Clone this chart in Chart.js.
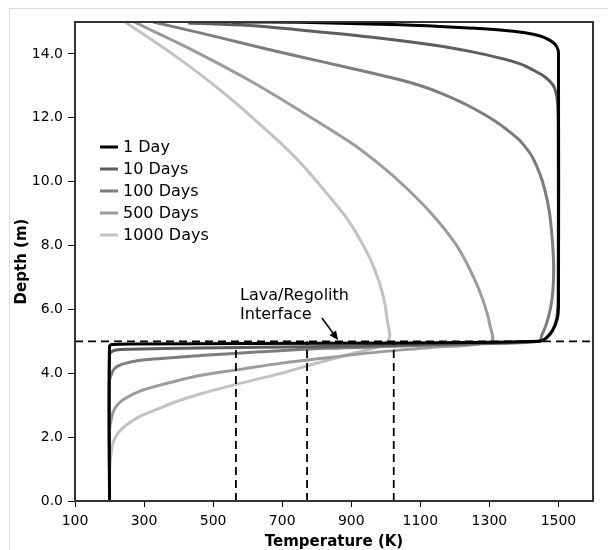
<!DOCTYPE html>
<html>
<head>
<meta charset="utf-8">
<script src="https://cdn.jsdelivr.net/npm/chart.js@4.4.0/dist/chart.umd.min.js"></script>
<style>
  body { margin: 0; background: #fff; }
  #wrap { position: relative; width: 608px; height: 550px; overflow: hidden; }
  #frame { position: absolute; left: 9px; top: 8px; width: 800px; height: 800px; border: 1px solid #dcdcdc; }
  #wrap canvas { position: absolute; left: 0; top: 0; }
</style>
</head>
<body>
<div id="wrap">
  <div id="frame"></div>
  <canvas id="chartProfile"></canvas>
</div>
<script>
const FONT = '"DejaVu Sans", Verdana, sans-serif';

// series labels and colours
const seriesLabels = ['1 Day', '10 Days', '100 Days', '500 Days', '1000 Days'];
const seriesColors = ['#000000', '#5e5e5e', '#7d7d7d', '#9c9c9c', '#c2c2c2'];

// temperature (K) / depth (m) pairs, from the surface (15 m) down through the interface to 0 m
const temp1Day  = [555, 752, 1041, 1244, 1331, 1403, 1447, 1473, 1490, 1499, 1500, 1500, 1497, 1484, 1464, 1444,
                   1041, 607, 259, 210, 200, 200];
const depth1Day = [15, 14.99, 14.91, 14.81, 14.75, 14.66, 14.56, 14.44, 14.3, 14.12, 13.81, 6.14, 5.73, 5.36, 5.1, 5.0,
                   4.95, 4.93, 4.92, 4.9, 4.85, 0];

const temp10Days  = [427, 607, 752, 954, 1137, 1244, 1331, 1389, 1426, 1461, 1484, 1493, 1497, 1499, 1499, 1495, 1482, 1465, 1444,
                     1128, 824, 462, 259, 219, 207, 200, 200];
const depth10Days = [14.97, 14.89, 14.75, 14.53, 14.28, 14.08, 13.87, 13.69, 13.5, 13.28, 13.03, 12.78, 12.5, 11.93, 6.3, 5.73, 5.32, 5.1, 5.0,
                     4.9, 4.84, 4.79, 4.75, 4.73, 4.68, 4.6, 0];

const temp100Days  = [326, 462, 607, 752, 896, 1041, 1099, 1157, 1235, 1316, 1380, 1403, 1424, 1447, 1461, 1473, 1481, 1486, 1484, 1477, 1464, 1452, 1444,
                      1244, 1041, 824, 636, 485, 390, 303, 245, 227, 213, 206, 200, 200];
const depth100Days = [15, 14.66, 14.28, 13.91, 13.56, 13.19, 13.01, 12.78, 12.4, 11.9, 11.37, 11.1, 10.78, 10.22, 9.72, 9.1, 8.33, 7.39, 6.61, 6.04, 5.51, 5.2, 5.0,
                      4.92, 4.85, 4.78, 4.67, 4.57, 4.49, 4.42, 4.31, 4.24, 4.13, 3.98, 3.79, 0];

const temp500Days  = [271, 433, 607, 752, 896, 969, 1041, 1128, 1206, 1258, 1287, 1302, 1305,
                      1128, 983, 824, 694, 583, 462, 404, 346, 288, 245, 225, 213, 206, 200, 200];
const depth500Days = [15, 14.16, 13.16, 12.22, 11.24, 10.65, 9.99, 9.05, 7.99, 6.92, 6.11, 5.48, 5.0,
                      4.81, 4.67, 4.48, 4.31, 4.13, 3.93, 3.79, 3.63, 3.44, 3.21, 3.04, 2.85, 2.6, 2.22, 0];

const temp1000Days  = [245, 390, 534, 679, 752, 838, 891, 934, 966, 992, 1004, 1006,
                       896, 781, 694, 584, 462, 390, 346, 288, 245, 225, 210, 204, 200, 200];
const depth1000Days = [15, 13.94, 12.75, 11.37, 10.6, 9.52, 8.79, 8.02, 7.3, 6.45, 5.67, 5.0,
                       4.6, 4.26, 3.99, 3.7, 3.35, 3.1, 2.91, 2.65, 2.35, 2.13, 1.82, 1.44, 0.97, 0];

const seriesTemps  = [temp1Day, temp10Days, temp100Days, temp500Days, temp1000Days];
const seriesDepths = [depth1Day, depth10Days, depth100Days, depth500Days, depth1000Days];

// interface and reference markers
const interfaceDepth = 5;
const markerTemps = [566, 772, 1023];

// axes
const xTickValues = [100, 300, 500, 700, 900, 1100, 1300, 1500];
const yTickValues = [0, 2, 4, 6, 8, 10, 12, 14];

const toPoints = (xs, ys) => xs.map((x, i) => ({x: x, y: ys[i]}));

const curveSets = seriesLabels.map((label, i) => ({
    label: label,
    data: toPoints(seriesTemps[i], seriesDepths[i]),
    borderColor: seriesColors[i],
    borderWidth: 3,
    pointRadius: 0,
    tension: 0.35,
    fill: false,
    order: 1
}));

const dashStyle = {borderColor: '#000', borderWidth: 1.8, borderDash: [8, 5], pointRadius: 0, tension: 0, fill: false, order: 0};
const dashSets = [
    Object.assign({data: [{x: 100, y: interfaceDepth}, {x: 1600, y: interfaceDepth}]}, dashStyle)
].concat(markerTemps.map(t => Object.assign({data: [{x: t, y: 0}, {x: t, y: interfaceDepth}]}, dashStyle)));

// box round the plot area
const plotFrame = {
    id: 'plotFrame',
    afterDatasetsDraw(chart) {
        const {ctx, chartArea: a} = chart;
        ctx.save();
        ctx.strokeStyle = '#333';
        ctx.lineWidth = 2;
        ctx.strokeRect(a.left, a.top, a.right - a.left, a.bottom - a.top);
        ctx.restore();
    }
};

// legend inside the plot + interface note
const notes = {
    id: 'notes',
    afterDraw(chart) {
        const {ctx, chartArea: a, scales: {x, y}} = chart;
        ctx.save();
        ctx.font = '16px ' + FONT;
        ctx.textBaseline = 'middle';
        curveSets.forEach((ds, i) => {
            const yy = a.top + 125 + i * 22;
            ctx.strokeStyle = ds.borderColor;
            ctx.lineWidth = 3;
            ctx.beginPath();
            ctx.moveTo(a.left + 25, yy);
            ctx.lineTo(a.left + 43, yy);
            ctx.stroke();
            ctx.fillStyle = '#000';
            ctx.fillText(ds.label, a.left + 48, yy + 1);
        });

        ctx.textBaseline = 'alphabetic';
        const tx = x.getPixelForValue(578);
        const ty = y.getPixelForValue(6.3);
        ctx.fillText('Lava/Regolith', tx, ty);
        ctx.fillText('Interface', tx, ty + 19);

        const x0 = x.getPixelForValue(815), y0 = y.getPixelForValue(5.73);
        const x1 = x.getPixelForValue(862), y1 = y.getPixelForValue(5.04);
        const ang = Math.atan2(y1 - y0, x1 - x0);
        ctx.strokeStyle = '#000';
        ctx.lineWidth = 1.5;
        ctx.beginPath();
        ctx.moveTo(x0, y0);
        ctx.lineTo(x1 - 6 * Math.cos(ang), y1 - 6 * Math.sin(ang));
        ctx.stroke();
        ctx.beginPath();
        ctx.moveTo(x1, y1);
        ctx.lineTo(x1 - 9 * Math.cos(ang) + 4 * Math.sin(ang), y1 - 9 * Math.sin(ang) - 4 * Math.cos(ang));
        ctx.lineTo(x1 - 9 * Math.cos(ang) - 4 * Math.sin(ang), y1 - 9 * Math.sin(ang) + 4 * Math.cos(ang));
        ctx.closePath();
        ctx.fillStyle = '#000';
        ctx.fill();
        ctx.restore();
    }
};

const chart = new Chart(document.getElementById('chartProfile').getContext('2d'), {
    type: 'scatter',
    data: {datasets: curveSets.concat(dashSets)},
    options: {
        responsive: true,
        maintainAspectRatio: false,
        animation: false,
        showLine: true,
        layout: {padding: {top: 22, right: 15, left: 0, bottom: 0}},
        plugins: {legend: {display: false}, tooltip: {enabled: false}},
        scales: {
            x: {
                type: 'linear',
                min: 100,
                max: 1600,
                afterBuildTicks: s => { s.ticks = xTickValues.map(v => ({value: v})); },
                afterFit: s => { s.height = 49; },
                ticks: {font: {family: FONT, size: 14}, color: '#000', padding: 6, maxRotation: 0, autoSkip: false,
                    callback: v => String(v)},
                grid: {display: true, drawOnChartArea: false, tickLength: 6, tickColor: '#000', tickWidth: 1},
                border: {display: false},
                title: {display: true, text: 'Temperature (K)', color: '#000',
                    font: {family: FONT, size: 15, weight: 'bold', lineHeight: 1}, padding: {top: 0, bottom: 0}}
            },
            y: {
                type: 'linear',
                min: 0,
                max: 15,
                afterBuildTicks: s => { s.ticks = yTickValues.map(v => ({value: v})); },
                afterFit: s => { s.width = 75; },
                ticks: {font: {family: FONT, size: 14}, color: '#000', padding: 5, autoSkip: false,
                    callback: v => v.toFixed(1)},
                grid: {display: true, drawOnChartArea: false, tickLength: 7, tickColor: '#000', tickWidth: 1},
                border: {display: false},
                title: {display: true, text: 'Depth (m)', color: '#000',
                    font: {family: FONT, size: 15, weight: 'bold', lineHeight: 1.2}, padding: {top: 13, bottom: 0}}
            }
        }
    },
    plugins: [plotFrame, notes]
});
</script>
</body>
</html>
